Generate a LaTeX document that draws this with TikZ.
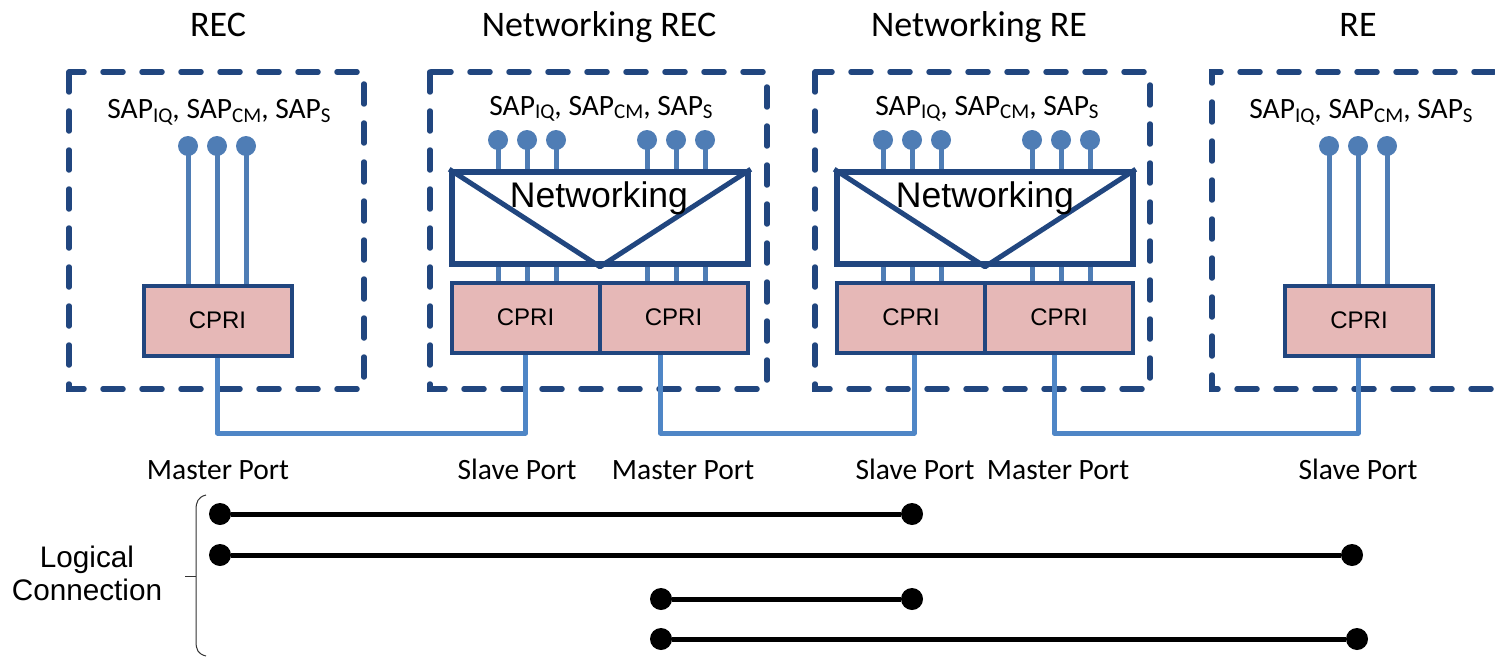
\documentclass[tikz,border=0pt]{standalone}
\usepackage{fontspec}
\setmainfont{Carlito}
\newfontfamily\arialf{Liberation Sans}
\usetikzlibrary{calc}
\definecolor{dkblue}{HTML}{21467F}
\definecolor{ltblue}{HTML}{4F7DB5}
\definecolor{cpripink}{HTML}{E6B8B7}
\definecolor{linkblue}{HTML}{4F86C6}
\newcommand\sapsub[1]{\raisebox{-3pt}{\fontsize{21}{21}\selectfont #1}}
\newcommand\saplabel{SAP\sapsub{IQ}, SAP\sapsub{CM}, SAP\sapsub{S}}
\tikzset{
  unitbox/.style={draw=dkblue, line width=5.5, line cap=round, dash pattern=on 20 off 19},
  cpribox/.style={draw=dkblue, fill=cpripink, line width=4, minimum width=148, minimum height=70, inner sep=0, font=\arialf\fontsize{24}{24}\selectfont},
  netbox/.style={draw=dkblue, line width=5.5, minimum width=296, minimum height=92, inner sep=0},
  nettext/.style={anchor=base, inner sep=0, font=\arialf\fontsize{35.6}{36}\selectfont},
  pinhead/.style={circle, fill=ltblue, inner sep=0, minimum size=20},
  pinline/.style={ltblue, line width=5},
  link/.style={linkblue, line width=5},
  title/.style={anchor=base, inner sep=0, font=\fontsize{36}{36}\selectfont},
  sap/.style={anchor=base, inner sep=0, font=\fontsize{29.5}{30}\selectfont},
  port/.style={anchor=base, inner sep=0, font=\fontsize{29.5}{30}\selectfont},
  dot/.style={circle, fill=black, inner sep=0, minimum size=22},
  logic/.style={black, line width=5},
  lctext/.style={anchor=base, inner sep=0, font=\arialf\fontsize{29.7}{33}\selectfont}
}
\begin{document}
\begin{tikzpicture}[x=1pt,y=-1pt]
\useasboundingbox (0,0) rectangle (1495,658);

% titles
\node[title] (t1) at (218,37) {REC};
\node[title] (t2) at (599,37) {Networking REC};
\node[title] (t3) at (979,37) {Networking RE};
\node[title] (t4) at (1358,37) {RE};

% dashed unit boxes
\draw[unitbox] (69,72) rectangle (364,389);
\draw[unitbox] (430,72) rectangle (767,389);
\draw[unitbox] (815,72) rectangle (1150,389);
\draw[unitbox] (1494,72) -- (1212,72) -- (1212,389) -- (1494,389);

% SAP labels
\node[sap] (s1) at (219,119) {\saplabel};
\node[sap] (s2) at (601,116) {\saplabel};
\node[sap] (s3) at (987,116) {\saplabel};
\node[sap] (s4) at (1361,119) {\saplabel};

% CPRI blocks
\node[cpribox] (c1) at (217.5,320.5) {CPRI};
\node[cpribox] (c2) at (525.5,317.5) {CPRI};
\node[cpribox] (c3) at (673.5,317.5) {CPRI};
\node[cpribox] (c4) at (911,317.5) {CPRI};
\node[cpribox] (c5) at (1059,317.5) {CPRI};
\node[cpribox] (c6) at (1359,320.5) {CPRI};

% networking blocks
\node[netbox] (n1) at (600,218) {};
\node[netbox] (n2) at (985,218) {};

% REC pins
\foreach \x [count=\i] in {188,217,246} {
  \node[pinhead] (pa\i) at (\x,146) {};
  \draw[pinline] (pa\i.center) -- (pa\i.center |- c1.north);
}
% RE pins
\foreach \x [count=\i] in {1329,1358,1387} {
  \node[pinhead] (pd\i) at (\x,146) {};
  \draw[pinline] (pd\i.center) -- (pd\i.center |- c6.north);
}
% Networking REC pins
\foreach \x [count=\i] in {498,527,556,647,676,705} {
  \node[pinhead] (pb\i) at (\x,140) {};
  \draw[pinline] (pb\i.center) -- (pb\i.center |- n1.north);
  \draw[pinline] (pb\i.center |- n1.south) -- (pb\i.center |- c2.north);
}
% Networking RE pins
\foreach \x [count=\i] in {883,912,941,1032,1061,1090} {
  \node[pinhead] (pc\i) at (\x,140) {};
  \draw[pinline] (pc\i.center) -- (pc\i.center |- n2.north);
  \draw[pinline] (pc\i.center |- n2.south) -- (pc\i.center |- c4.north);
}
% redraw boxes on top of pin lines
\node[netbox] at (n1) {};
\node[netbox] at (n2) {};
\draw[dkblue, line width=5, line join=round] (n1.north west) -- (n1.south) -- (n1.north east);
\draw[dkblue, line width=5, line join=round] (n2.north west) -- (n2.south) -- (n2.north east);
\node[nettext] (nt1) at (599,207) {Networking};
\node[nettext] (nt2) at (985,207) {Networking};
\node[cpribox] at (c1) {CPRI};
\node[cpribox] at (c2) {CPRI};
\node[cpribox] at (c3) {CPRI};
\node[cpribox] at (c4) {CPRI};
\node[cpribox] at (c5) {CPRI};
\node[cpribox] at (c6) {CPRI};

% physical links
\coordinate (bus) at (0,433);
\draw[link, line join=round] (c1.south) -- (c1.south |- bus) -| (c2.south);
\draw[link, line join=round] ([xshift=-13]c3.south) -- ([xshift=-13]c3.south |- bus) -| ([xshift=3]c4.south);
\draw[link, line join=round] ([xshift=-5]c5.south) -- ([xshift=-5]c5.south |- bus) -| ([xshift=-1]c6.south);

% port labels
\node[port] (m1) at (218,479) {Master Port};
\node[port] (sl1) at (517,479) {Slave Port};
\node[port] (m2) at (683,479) {Master Port};
\node[port] (sl2) at (915,479) {Slave Port};
\node[port] (m3) at (1058,479) {Master Port};
\node[port] (sl3) at (1358,479) {Slave Port};

% logical connections
\node[dot] (a1) at (220,514) {};
\node[dot] (b1) at (912,514) {};
\node[dot] (a2) at (220,555) {};
\node[dot] (b2) at (1352,555) {};
\node[dot] (a3) at (661,599) {};
\node[dot] (b3) at (912,599) {};
\node[dot] (a4) at (661,639) {};
\node[dot] (b4) at (1357,639) {};
\draw[logic] (a1) -- (b1);
\draw[logic] (a2) -- (b2);
\draw[logic] (a3) -- (b3);
\draw[logic] (a4) -- (b4);

% brace
\coordinate (bt) at (206,495);
\coordinate (bb) at (206,656);
\coordinate (bm) at (185,576);
\draw[black!80, line width=1] (bt) .. controls (198,497) and (196,502) .. (196,510) -- (196,641) .. controls (196,650) and (198,654) .. (bb);
\draw[black!80, line width=1] (bm) -- (196,576);

\node[lctext] (lc1) at (87,567) {Logical};
\node[lctext] (lc2) at (87,600) {Connection};
\end{tikzpicture}
\end{document}
